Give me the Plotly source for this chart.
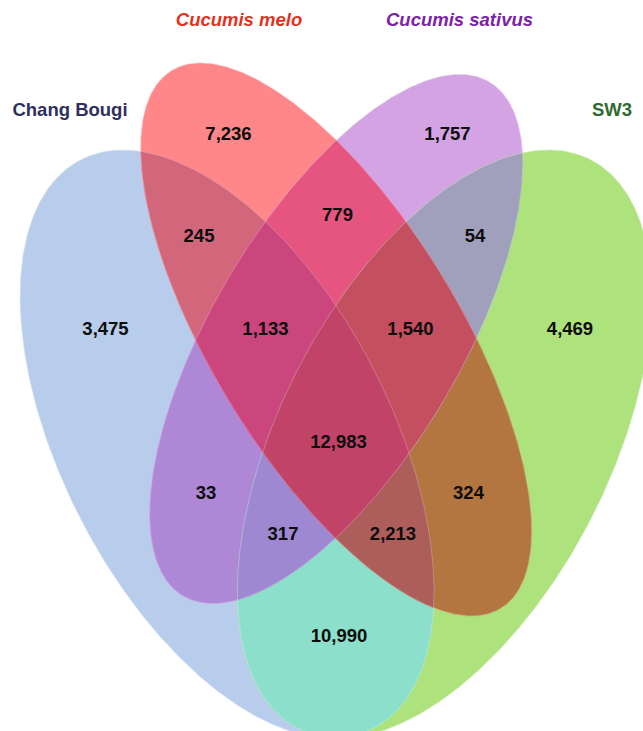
import numpy as np
import plotly.graph_objects as go

# ---- data -------------------------------------------------------------
set_names = ["Chang Bougi", "Cucumis melo", "Cucumis sativus", "SW3"]

# membership code per region: one digit per set, in set_names order
region_codes = ["1000", "0100", "0010", "0001",
                "1100", "1010", "1001", "0110", "0101", "0011",
                "1110", "1101", "1011", "0111", "1111"]
region_counts = [3475, 7236, 1757, 4469,
                 245, 33, 10990, 779, 324, 54,
                 1133, 2213, 317, 1540, 12983]

# ---- geometry & style ---------------------------------------------------
W, H = 643, 731

# each set is an ellipse: centre, half-extent in x, half-extent in y, xy covariance term
ellipses = [
    dict(cx=227.1, cy=444.0, sx=207.0, sy=294.0, sxy=30600.0),   # Chang Bougi
    dict(cx=336.2, cy=339.5, sx=195.5, sy=276.5, sxy=37450.0),   # Cucumis melo
    dict(cx=336.2, cy=339.0, sx=186.6, sy=264.6, sxy=-32640.0),  # Cucumis sativus
    dict(cx=444.4, cy=444.0, sx=207.0, sy=294.0, sxy=-30600.0),  # SW3
]

region_colors = {
    "1000": "#b8cdeb", "0100": "#ff878a", "0010": "#d4a3e4", "0001": "#ade27c",
    "1100": "#d2677c", "1010": "#ae88d7", "1001": "#8cdfcb", "0110": "#e6557f",
    "0101": "#b47641", "0011": "#a0a0bc", "1110": "#ca467c", "1101": "#ad5e5b",
    "1011": "#9f88d2", "0111": "#c4505f", "1111": "#c14468",
}

count_pos = {
    "1000": (105.5, 330), "0100": (228.5, 135), "0010": (447.5, 135), "0001": (570, 330),
    "1100": (199, 237), "1010": (206, 494), "1001": (339, 637.5), "0110": (337.5, 216.5),
    "0101": (468.5, 494), "0011": (475, 237), "1110": (265.5, 330), "1101": (393, 535),
    "1011": (283, 535), "0111": (410.5, 330), "1111": (338.5, 443.5),
}

name_pos = [(70, 111), (239, 21.5), (459.5, 21.5), (612, 111)]
name_colors = ["#2e2f5f", "#e2321f", "#7b22a5", "#2f6b31"]
name_italic = [False, True, True, False]

FONT = "Liberation Sans, Arial, Helvetica, sans-serif"


def ellipse_polygon(e, n=720):
    cov = np.array([[e["sx"] ** 2, e["sxy"]], [e["sxy"], e["sy"] ** 2]])
    L = np.linalg.cholesky(cov)
    t = np.linspace(0, 2 * np.pi, n, endpoint=False)
    pts = L @ np.vstack([np.cos(t), np.sin(t)])
    return [(e["cx"] + x, e["cy"] + y) for x, y in pts.T]


def signed_area(poly):
    a = 0.0
    for i in range(len(poly)):
        x1, y1 = poly[i - 1]
        x2, y2 = poly[i]
        a += x1 * y2 - x2 * y1
    return a / 2


def clip_convex(subject, clipper):
    """Sutherland-Hodgman clip of a polygon by a convex polygon."""
    sign = 1 if signed_area(clipper) > 0 else -1
    out = list(subject)
    n = len(clipper)
    for i in range(n):
        if not out:
            break
        ax, ay = clipper[i]
        bx, by = clipper[(i + 1) % n]

        def inside(p):
            return sign * ((bx - ax) * (p[1] - ay) - (by - ay) * (p[0] - ax)) >= 0

        def cross_pt(p, q):
            dx, dy = q[0] - p[0], q[1] - p[1]
            ex, ey = bx - ax, by - ay
            den = dx * ey - dy * ex
            if den == 0:
                return q
            s = ((ax - p[0]) * ey - (ay - p[1]) * ex) / den
            return (p[0] + s * dx, p[1] + s * dy)

        inp, out = out, []
        for j in range(len(inp)):
            cur, prev = inp[j], inp[j - 1]
            if inside(cur):
                if not inside(prev):
                    out.append(cross_pt(prev, cur))
                out.append(cur)
            elif inside(prev):
                out.append(cross_pt(prev, cur))
    return out


polys = [ellipse_polygon(e) for e in ellipses]

fig = go.Figure()

# paint every intersection of the member ellipses, smallest sets first,
# so each pixel ends up with the colour of its exact region
for code in sorted(region_codes, key=lambda c: c.count("1")):
    members = [i for i, ch in enumerate(code) if ch == "1"]
    poly = polys[members[0]]
    for m in members[1:]:
        poly = clip_convex(poly, polys[m])
    if not poly:
        continue
    xs = [p[0] for p in poly] + [poly[0][0]]
    ys = [p[1] for p in poly] + [poly[0][1]]
    col = region_colors[code]
    fig.add_trace(go.Scatter(x=xs, y=ys, mode="lines", fill="toself",
                             fillcolor=col, line=dict(color=col, width=0.5),
                             hoverinfo="skip", showlegend=False))

# faint light seams along the ellipse outlines
for poly in polys:
    xs = [p[0] for p in poly] + [poly[0][0]]
    ys = [p[1] for p in poly] + [poly[0][1]]
    fig.add_trace(go.Scatter(x=xs, y=ys, mode="lines",
                             line=dict(color="rgba(255,255,255,0.35)", width=0.7),
                             hoverinfo="skip", showlegend=False))

# region counts
fig.add_trace(go.Scatter(
    x=[count_pos[c][0] for c in region_codes],
    y=[count_pos[c][1] for c in region_codes],
    mode="text",
    text=[f"<b>{n:,}</b>" for n in region_counts],
    textposition="middle center",
    textfont=dict(family=FONT, size=18.5, color="#0d0d0d"),
    hoverinfo="skip", showlegend=False))

# set names
for name, (x, y), col, it in zip(set_names, name_pos, name_colors, name_italic):
    txt = f"<b>{name}</b>"
    if it:
        txt = f"<i>{txt}</i>"
    fig.add_trace(go.Scatter(x=[x], y=[y], mode="text", text=[txt],
                             textposition="middle center",
                             textfont=dict(family=FONT, size=18.5, color=col),
                             hoverinfo="skip", showlegend=False))

fig.update_layout(
    width=W, height=H,
    margin=dict(l=0, r=0, t=0, b=0),
    paper_bgcolor="white", plot_bgcolor="white",
    xaxis=dict(range=[0, W], visible=False, fixedrange=True),
    yaxis=dict(range=[H, 0], visible=False, fixedrange=True),
    showlegend=False,
)

fig.write_html("out.html")
